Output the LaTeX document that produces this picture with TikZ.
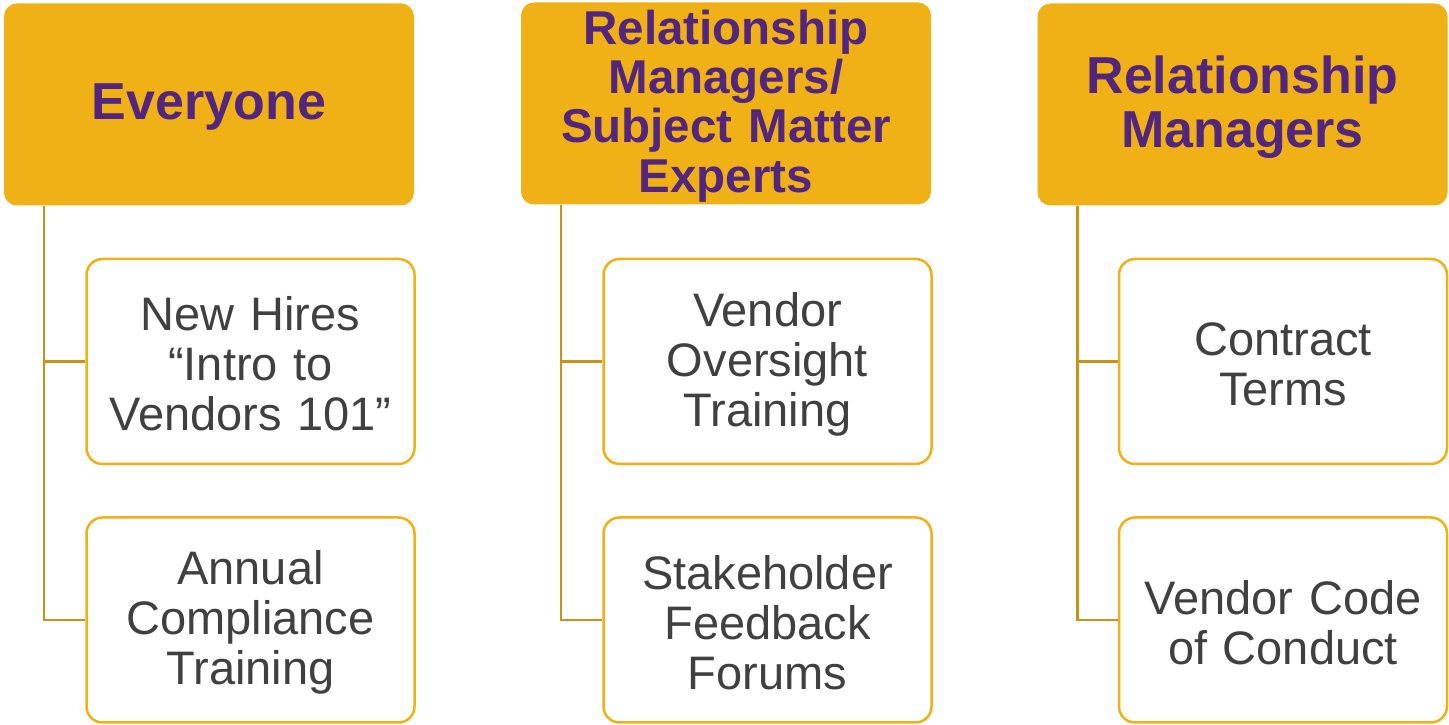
\documentclass[tikz,border=0pt]{standalone}
\usepackage{fontspec}
\setmainfont{Liberation Sans}
\definecolor{gold}{HTML}{EFB116}
\definecolor{goldline}{HTML}{C8921B}
\definecolor{purp}{HTML}{52267E}
\definecolor{txtgray}{HTML}{404040}
\begin{document}
\begin{tikzpicture}[x=1pt,y=1pt,
  hdr/.style={rectangle, rounded corners=13pt, fill=gold, draw=none,
    minimum width=410pt, minimum height=202pt, inner sep=0pt},
  hdrtext/.style={inner sep=0pt, yshift=-2.5pt, text width=400pt, align=center,
    text=purp, font=\bfseries\fontsize{52}{54}\selectfont},
  hdrtextsmall/.style={hdrtext, font=\bfseries\fontsize{47.5}{49.3}\selectfont},
  item/.style={rectangle, rounded corners=16pt, fill=white, draw=gold, line width=2.5pt,
    minimum width=328pt, minimum height=205pt, inner sep=0pt},
  itemtext/.style={inner sep=0pt, yshift=-2.5pt, text width=320pt, align=center,
    text=txtgray, font=\fontsize{47}{50}\selectfont},
  conn/.style={draw=goldline, line width=2.5pt}]
\useasboundingbox (0,0) rectangle (1449,725);

% column 1
\node[hdr, label={[hdrtext]center:{Everyone}}] (h1) at (209,620.5) {};
\node[item, label={[itemtext]center:{New Hires\\“Intro to\\Vendors 101”}}] (a1) at (250.5,363.5) {};
\node[item, label={[itemtext]center:{Annual\\Compliance\\Training}}] (b1) at (250.5,105) {};
\coordinate (r1) at ([xshift=40pt]h1.south west);
\draw[conn] (r1) |- (a1.west);
\draw[conn] (r1) |- (b1.west);

% column 2
\node[hdr, label={[hdrtextsmall]center:{Relationship\\Managers/\\Subject Matter\\Experts}}] (h2) at (726,621.5) {};
\node[item, label={[itemtext]center:{Vendor\\Oversight\\Training}}] (a2) at (767.5,363.5) {};
\node[item, label={[itemtext]center:{Stakeholder\\Feedback\\Forums}}] (b2) at (767.5,105) {};
\coordinate (r2) at ([xshift=40pt]h2.south west);
\draw[conn] (r2) |- (a2.west);
\draw[conn] (r2) |- (b2.west);

% column 3
\node[hdr, label={[hdrtext]center:{Relationship\\Managers}}] (h3) at (1242.5,620.5) {};
\node[item, label={[itemtext]center:{Contract\\Terms}}] (a3) at (1283,363.5) {};
\node[item, label={[itemtext]center:{Vendor Code\\of Conduct}}] (b3) at (1283,105) {};
\coordinate (r3) at ([xshift=40pt]h3.south west);
\draw[conn] (r3) |- (a3.west);
\draw[conn] (r3) |- (b3.west);
\end{tikzpicture}
\end{document}
